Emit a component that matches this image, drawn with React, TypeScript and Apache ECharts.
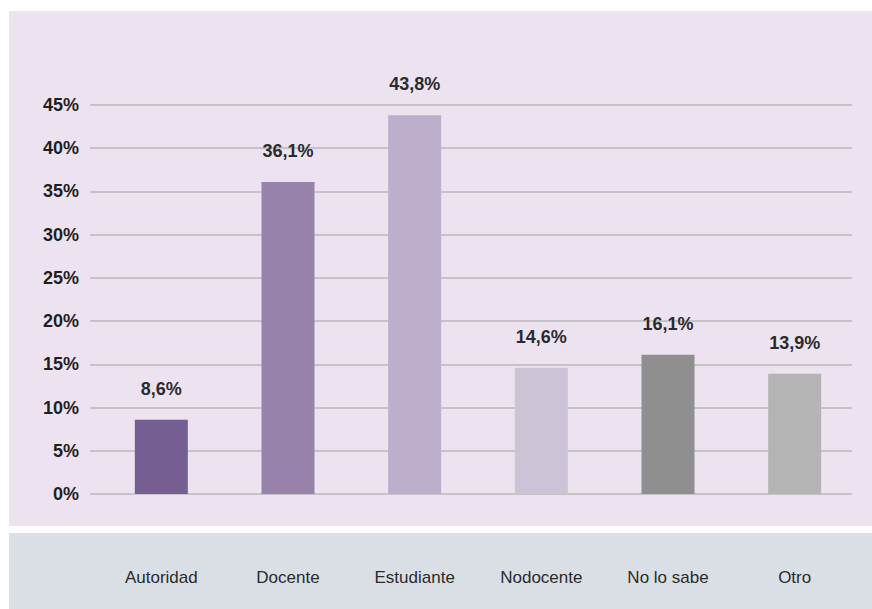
import React, { useEffect, useRef } from "react";
import * as echarts from "echarts";

const categories = ["Autoridad", "Docente", "Estudiante", "Nodocente", "No lo sabe", "Otro"];
const values = [8.6, 36.1, 43.8, 14.6, 16.1, 13.9];
const valueLabels = ["8,6%", "36,1%", "43,8%", "14,6%", "16,1%", "13,9%"];
const barColors = ["#755f92", "#9783a9", "#bdafcb", "#cdc3d6", "#8f8f8f", "#b5b4b5"];

const FONT = "'Liberation Sans Narrow', 'Liberation Sans', Arial, sans-serif";

export default function App() {
  const ref = useRef<HTMLDivElement>(null);
  useEffect(() => {
    if (!ref.current) return;
    const chart = echarts.init(ref.current, null, { renderer: "svg" });
    const top = 105;
    const bottom = 609 - 494;
    chart.setOption({
      animation: false,
      backgroundColor: "#ffffff",
      graphic: [
        { type: "rect", z: -10, shape: { x: 9, y: 11, width: 863, height: 515 }, style: { fill: "#ede3f0" } },
        { type: "rect", z: -10, shape: { x: 9, y: 533, width: 863, height: 76 }, style: { fill: "#d9dfe5" } },
      ],
      grid: [
        { left: 90, right: 20, top, bottom },
        { left: 98, right: 14, top, bottom },
      ],
      xAxis: [
        { type: "category", gridIndex: 0, data: categories, show: false },
        {
          type: "category",
          gridIndex: 1,
          data: categories,
          axisLine: { show: false },
          axisTick: { show: false },
          axisLabel: { margin: 75, color: "#2b2b2b", fontSize: 17, fontFamily: FONT },
        },
      ],
      yAxis: [
        {
          type: "value",
          gridIndex: 0,
          min: 0,
          max: 45,
          interval: 5,
          axisLine: { show: false },
          axisTick: { show: false },
          splitLine: { lineStyle: { color: "#b9b9bb", width: 1.5 } },
          axisLabel: {
            formatter: (v: number) => v + "%",
            margin: 11,
            color: "#1f1f1f",
            fontSize: 18,
            fontWeight: "bold",
            fontFamily: FONT,
          },
        },
        { type: "value", gridIndex: 1, min: 0, max: 45, interval: 5, show: false, splitLine: { show: false } },
      ],
      series: [
        {
          type: "bar",
          xAxisIndex: 1,
          yAxisIndex: 1,
          barWidth: 53,
          data: values.map((v, i) => ({ value: v, itemStyle: { color: barColors[i] } })),
          label: {
            show: true,
            position: "top",
            distance: 22,
            formatter: (p: any) => valueLabels[p.dataIndex],
            color: "#2b2b2b",
            fontSize: 18,
            fontWeight: "bold",
            fontFamily: FONT,
          },
        },
      ],
    });
    return () => chart.dispose();
  }, []);
  return <div ref={ref} style={{ position: "fixed", left: 0, top: 0, width: 872, height: 609 }} />;
}
